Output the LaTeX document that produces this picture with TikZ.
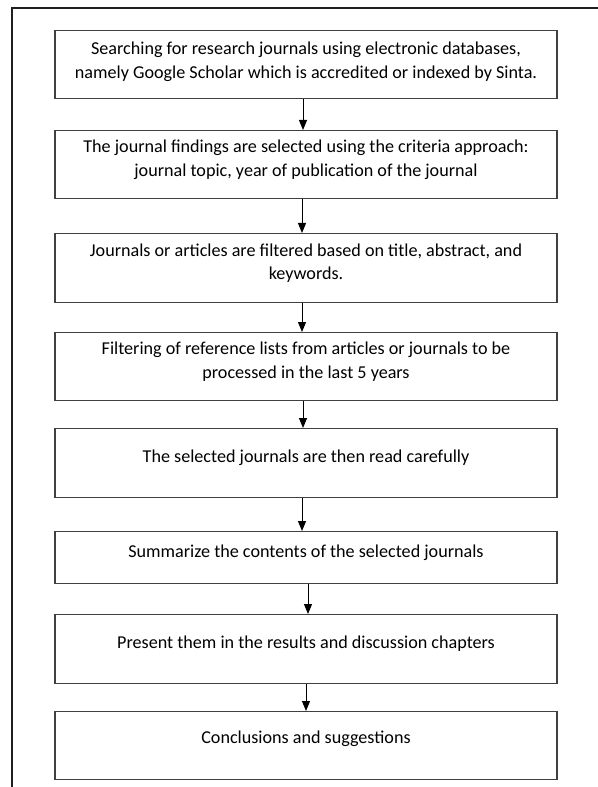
\documentclass[tikz,border=0pt]{standalone}
\usepackage{fontspec}
\setmainfont{Carlito}
\usepackage{xcolor}
\usepackage{tikz}
\usetikzlibrary{arrows.meta}
\definecolor{FrameInk}{HTML}{1F1F1F}
\definecolor{BoxInk}{HTML}{404040}

\begin{document}
\begin{tikzpicture}[x=0.75pt,y=-0.75pt,
  stepbox/.style={draw=BoxInk,line width=1.1pt,minimum width=376.5pt,inner sep=0pt,
    anchor=north,align=center,font=\fontsize{13.6pt}{17.5pt}\selectfont,text depth=10pt},
  flow/.style={-{Triangle[length=7.5pt,width=6pt]},line width=0.75pt}]
  \useasboundingbox (0,0) rectangle (598,787);
  % page frame
  \draw[FrameInk,line width=1.5pt] (11.7,800) -- (11.7,8.5) -- (610,8.5);

  \node[stepbox,minimum height=51pt,text depth=7pt] (search) at (306,30)
    {Searching for research journals using electronic databases,\\namely Google Scholar which is accredited or indexed by Sinta.};
  \node[stepbox,minimum height=51pt] (select) at (306,130)
    {The journal findings are selected using the criteria approach:\\journal topic, year of publication of the journal};
  \node[stepbox,minimum height=51.75pt] (filter) at (306,233)
    {Journals or articles are filtered based on title, abstract, and\\keywords.};
  \node[stepbox,minimum height=51pt] (reflist) at (306,332)
    {Filtering of reference lists from articles or journals to be\\processed in the last 5 years};
  \node[stepbox,minimum height=51.75pt] (read) at (306,428)
    {The selected journals are then read carefully};
  \node[stepbox,minimum height=39pt] (summary) at (306,531)
    {Summarize the contents of the selected journals};
  \node[stepbox,minimum height=51.75pt] (present) at (306,614)
    {Present them in the results and discussion chapters};
  \node[stepbox,minimum height=51pt,text depth=13pt] (concl) at (306,711)
    {Conclusions and suggestions};

  \foreach \a/\b/\dx in {search/select/-3,select/filter/-4,filter/reflist/-4,reflist/read/-3,read/summary/-4,summary/present/2,present/concl/0}
    \draw[flow] ([xshift=\dx*0.75pt]\a.south) -- ([xshift=\dx*0.75pt]\b.north);
\end{tikzpicture}
\end{document}
